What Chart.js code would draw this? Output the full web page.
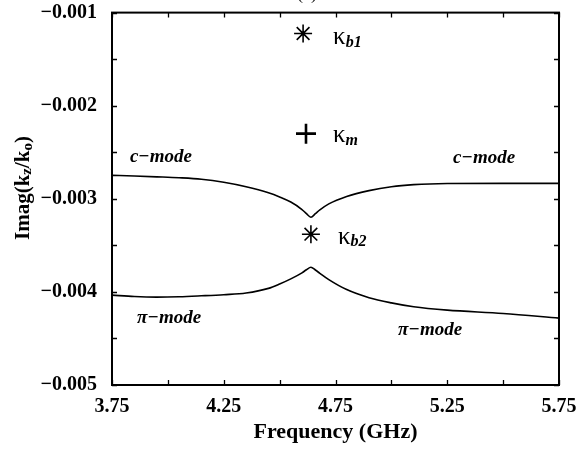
<!DOCTYPE html>
<html>
<head>
<meta charset="utf-8">
<script src="https://cdn.jsdelivr.net/npm/chart.js@4/dist/chart.umd.min.js"></script>
<style>
  html, body { margin: 0; padding: 0; background: #fff; }
  #wrap { width: 588px; height: 451px; }
</style>
</head>
<body>
<div id="wrap"><canvas id="modeChart" width="588" height="451"></canvas></div>
<script>
// Frequency samples (GHz) and imaginary part of kz/k0 for the two modes
const freqs = [3.75, 3.85, 3.95, 4.05, 4.15, 4.25, 4.35, 4.45, 4.5, 4.55, 4.6, 4.62, 4.64, 4.66, 4.68, 4.72, 4.8, 4.9, 5.0, 5.1, 5.25, 5.5, 5.75];
const cMode = [-0.002748, -0.002755, -0.002764, -0.002774, -0.002790, -0.002822, -0.002870, -0.002935, -0.002980, -0.003035, -0.003115, -0.003160, -0.003198, -0.003160, -0.003120, -0.003055, -0.002975, -0.002912, -0.002870, -0.002848, -0.002836, -0.002834, -0.002834];
const piMode = [-0.004035, -0.004050, -0.004056, -0.004052, -0.004042, -0.004030, -0.004012, -0.003962, -0.003915, -0.003860, -0.003795, -0.003762, -0.003735, -0.003765, -0.003800, -0.003868, -0.003975, -0.004062, -0.004118, -0.004160, -0.004196, -0.004232, -0.004282];

// Special points
const starPoints = [{ x: 4.605, y: -0.001225 }, { x: 4.64, y: -0.00338 }];
const plusPoints = [{ x: 4.618, y: -0.0023 }];

// Axis ranges
const xMin = 3.75, xMax = 5.75, xStep = 0.5, xMinor = 0.25;
const yMin = -0.005, yMax = -0.001, yStep = 0.001, yMinor = 0.0005;

const SERIF = "'Liberation Serif', 'DejaVu Serif', serif";

const toPoints = (xs, ys) => xs.map((x, i) => ({ x: x, y: ys[i] }));

// mode labels placed in data coordinates
const modeLabels = [
    { text: 'c\u2212mode', x: 3.83, y: -0.002555 },
    { text: 'c\u2212mode', x: 5.276, y: -0.002566 },
    { text: '\u03c0\u2212mode', x: 3.862, y: -0.004281 },
    { text: '\u03c0\u2212mode', x: 5.03, y: -0.00441 }
];
// kappa labels next to the markers
const kappaLabels = [
    { sub: 'b1', x: 4.605, y: -0.001225, dx: 30, dy: 4 },
    { sub: 'm', x: 4.618, y: -0.0023, dx: 27, dy: 2 },
    { sub: 'b2', x: 4.64, y: -0.00338, dx: 27, dy: 3 }
];

const framePlugin = {
    id: 'frame',
    afterDraw(chart) {
        const ctx = chart.ctx;
        const a = chart.chartArea;
        const xs = chart.scales.x, ys = chart.scales.y;
        ctx.save();
        ctx.strokeStyle = '#000';
        ctx.lineWidth = 2;
        ctx.strokeRect(a.left, a.top, a.right - a.left, a.bottom - a.top);

        // inward ticks on all sides
        ctx.lineWidth = 1.3;
        const len = 5;
        ctx.beginPath();
        for (let v = xMin; v <= xMax + 1e-9; v += xMinor) {
            const px = Math.round(xs.getPixelForValue(v)) + 0.5;
            ctx.moveTo(px, a.bottom); ctx.lineTo(px, a.bottom - len);
            ctx.moveTo(px, a.top); ctx.lineTo(px, a.top + len);
        }
        for (let v = yMin; v <= yMax + 1e-9; v += yMinor) {
            const py = Math.round(ys.getPixelForValue(v)) + 0.5;
            ctx.moveTo(a.left, py); ctx.lineTo(a.left + len, py);
            ctx.moveTo(a.right, py); ctx.lineTo(a.right - len, py);
        }
        ctx.stroke();

        // mode labels
        ctx.fillStyle = '#000';
        ctx.textBaseline = 'middle';
        ctx.textAlign = 'left';
        ctx.font = 'italic bold 19px ' + SERIF;
        modeLabels.forEach(l => {
            ctx.fillText(l.text, xs.getPixelForValue(l.x), ys.getPixelForValue(l.y));
        });

        // kappa labels
        kappaLabels.forEach(l => {
            const px = xs.getPixelForValue(l.x) + l.dx;
            const py = ys.getPixelForValue(l.y) + l.dy;
            ctx.font = '25px ' + SERIF;
            ctx.fillText('\u03ba', px, py);
            const w = ctx.measureText('\u03ba').width;
            ctx.font = 'italic bold 16px ' + SERIF;
            ctx.fillText(l.sub, px + w, py + 5);
        });

        // y axis title with subscripts
        ctx.translate(24, 188);
        ctx.rotate(-Math.PI / 2);
        const parts = [
            { t: 'Imag(k', f: 'bold 21px ' + SERIF, dy: 0 },
            { t: 'z', f: 'bold 15px ' + SERIF, dy: 3 },
            { t: '/k', f: 'bold 21px ' + SERIF, dy: 0 },
            { t: 'o', f: 'bold 15px ' + SERIF, dy: 4 },
            { t: ')', f: 'bold 21px ' + SERIF, dy: 0 }
        ];
        let total = 0;
        parts.forEach(p => { ctx.font = p.f; total += ctx.measureText(p.t).width; });
        let cx = -total / 2;
        parts.forEach(p => {
            ctx.font = p.f;
            ctx.fillText(p.t, cx, p.dy);
            cx += ctx.measureText(p.t).width;
        });
        ctx.restore();

        // panel label, mostly cropped at the top edge
        ctx.save();
        ctx.font = '18px ' + SERIF;
        ctx.textAlign = 'center';
        ctx.textBaseline = 'bottom';
        ctx.fillStyle = '#000';
        ctx.fillText('(a)', 307, 3);
        ctx.restore();
    }
};

const ctx = document.getElementById('modeChart').getContext('2d');
new Chart(ctx, {
    type: 'line',
    data: {
        datasets: [
            {
                label: 'c-mode',
                data: toPoints(freqs, cMode),
                borderColor: '#000',
                borderWidth: 1.6,
                pointRadius: 0,
                cubicInterpolationMode: 'monotone',
                fill: false
            },
            {
                label: 'pi-mode',
                data: toPoints(freqs, piMode),
                borderColor: '#000',
                borderWidth: 1.6,
                pointRadius: 0,
                cubicInterpolationMode: 'monotone',
                fill: false
            },
            {
                label: 'kappa b',
                data: starPoints,
                showLine: false,
                pointStyle: 'star',
                pointRadius: 9,
                borderColor: '#000',
                pointBorderWidth: 1.6
            },
            {
                label: 'kappa m',
                data: plusPoints,
                showLine: false,
                pointStyle: 'cross',
                pointRadius: 10,
                borderColor: '#000',
                pointBorderWidth: 2.6
            }
        ]
    },
    options: {
        responsive: false,
        animation: false,
        events: [],
        layout: { padding: { top: 12, right: 29, left: 0, bottom: 0 } },
        plugins: {
            legend: { display: false },
            tooltip: { enabled: false }
        },
        scales: {
            x: {
                type: 'linear',
                min: xMin,
                max: xMax,
                border: { display: false },
                grid: { display: false, drawTicks: false },
                ticks: {
                    stepSize: xStep,
                    padding: 10,
                    color: '#000',
                    maxRotation: 0,
                    font: { family: SERIF, size: 20, weight: 'bold' },
                    callback: v => v.toFixed(2)
                },
                title: {
                    display: true,
                    text: 'Frequency (GHz)',
                    color: '#000',
                    font: { family: SERIF, size: 22, weight: 'bold' },
                    padding: { top: 2, bottom: 5 }
                },
                afterFit: scale => { scale.height = 66; }
            },
            y: {
                type: 'linear',
                min: yMin,
                max: yMax,
                border: { display: false },
                grid: { display: false, drawTicks: false },
                ticks: {
                    stepSize: yStep,
                    padding: 15,
                    color: '#000',
                    font: { family: SERIF, size: 20, weight: 'bold' },
                    callback: v => '\u2212' + Math.abs(v).toFixed(3)
                },
                afterFit: scale => {
                    scale.width = 112;
                    scale.paddingTop = 12;
                    scale.paddingBottom = 12;
                }
            }
        }
    },
    plugins: [framePlugin]
});
</script>
</body>
</html>
